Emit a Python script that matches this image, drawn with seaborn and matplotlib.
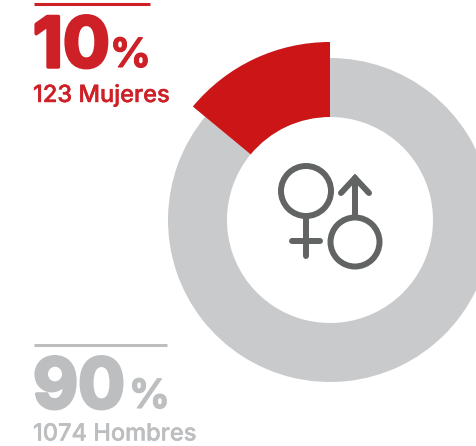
import matplotlib
matplotlib.use("Agg")
import matplotlib.pyplot as plt
import matplotlib.patheffects as pe
import seaborn as sns

# values
labels = ["Mujeres", "Hombres"]
counts = [123, 1074]
percents = [10, 90]
drawn_shares = [0.14, 0.86]  # the ring is not drawn to the printed percents

RED = "#cb1517"
RED_TXT = "#cd2027"
GREY = "#c9cacc"
GREY_TXT = "#bcbec0"
ICON = "#616463"

W, H = 477, 446

sns.set_theme(style="white")
plt.rcParams["font.family"] = ["Inter", "DejaVu Sans"]

fig = plt.figure(figsize=(W / 100, H / 100), dpi=100)
ax = fig.add_axes([0, 0, 1, 1])


def y(py):
    return H - py


#####
#   RING
#####
center = (330, y(220))
ax.pie(drawn_shares, colors=[GREY, GREY], radius=162, center=center, startangle=90,
       counterclock=True, wedgeprops=dict(width=59, linewidth=0))
ax.pie(drawn_shares[:1], normalize=False, colors=[RED], radius=178, center=center, startangle=90,
       counterclock=True, wedgeprops=dict(width=75, linewidth=0))

#####
#   ICON
#####
lw = 4.3
ax.add_patch(plt.Circle((306, y(191)), 25, fill=False, ec=ICON, lw=lw))
ax.plot([306, 306], [y(216), y(256)], color=ICON, lw=lw, solid_capstyle="round")
ax.plot([292, 320], [y(241), y(241)], color=ICON, lw=lw, solid_capstyle="round")
ax.add_patch(plt.Circle((355, y(242)), 24.5, fill=False, ec=ICON, lw=lw))
ax.plot([355, 355], [y(217), y(178)], color=ICON, lw=lw, solid_capstyle="round")
ax.plot([341, 355, 369], [y(193), y(178), y(193)], color=ICON, lw=lw,
        solid_capstyle="round", solid_joinstyle="miter")


#####
#   LABELS
#####
def label_block(x0, x1, rule_y, big_y, small_y, pct_x, i, col, rule_col):
    ax.plot([x0, x1], [y(rule_y), y(rule_y)], color=rule_col, lw=2.2, solid_capstyle="butt")
    heavy = [pe.withStroke(linewidth=2.5, foreground=col)]
    ax.text(x0 - 1, y(big_y), str(percents[i]), fontsize=50, fontweight="bold", color=col,
            va="baseline", ha="left", path_effects=heavy)
    ax.text(pct_x, y(big_y), "%", fontsize=29, fontweight="bold", color=col,
            va="baseline", ha="left", path_effects=[pe.withStroke(linewidth=0.8, foreground=col)])
    ax.text(x0 - 1, y(small_y), f"{counts[i]} {labels[i]}", fontsize=17, fontweight="medium",
            color=col, va="baseline", ha="left",
            path_effects=[pe.withStroke(linewidth=0.3, foreground=col)])


label_block(34, 150, 4, 67, 102, 110, 0, RED_TXT, RED_TXT)
label_block(34, 167, 345, 408, 440.5, 129, 1, GREY_TXT, GREY_TXT)

ax.set_xlim(0, W)
ax.set_ylim(0, H)
ax.set_aspect("auto")
ax.axis("off")

fig.savefig("out.png", dpi=100)
